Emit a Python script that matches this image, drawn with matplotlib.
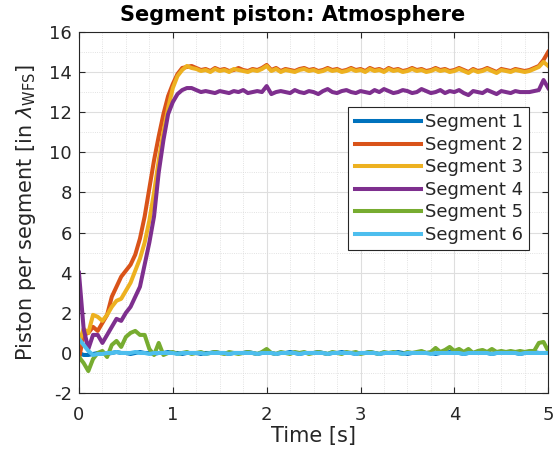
import numpy as np
import matplotlib
matplotlib.use("Agg")
import matplotlib.pyplot as plt
from matplotlib.ticker import MultipleLocator

plt.rcParams['axes.unicode_minus'] = False

# sample times [s], 0.05 s step, 0 .. 5
time_s = np.linspace(0, 5, 101)

seg1 = [0.0, -0.1, -0.1, -0.05, 0.0, 0.0, -0.05, 0.0, 0.05, 0.0, 0.0, -0.05, 0.0, 0.05, 0.0, 0.0, -0.05, 0.0, 0.0, 0.05, 0.0, 0.0, -0.05, 0.0, 0.0,
        0.0, -0.05, 0.0, 0.0, 0.05, 0.0, 0.0, -0.05, 0.0, 0.0, 0.0, 0.05, 0.0, -0.05, 0.0, 0.0,
        0.0, -0.05, 0.0, 0.0, 0.05, 0.0, -0.05, 0.0, 0.0, 0.0, 0.05, 0.0, -0.05, 0.0, 0.0, 0.05, 0.0, 0.0, -0.05, 0.0,
        0.0, 0.05, 0.0, -0.05, 0.0, 0.0, 0.0, 0.05, 0.0, -0.05, 0.0, 0.0, 0.05, 0.0, 0.0, -0.05, 0.0, 0.0, 0.05, 0.0,
        0.0, -0.05, 0.0, 0.0, 0.05, 0.0, 0.0, -0.05, 0.0, 0.0, 0.05, 0.0, 0.0, -0.05, 0.0, 0.0, 0.05, 0.0, 0.0, 0.0]

seg2 = [-0.3, 0.9, 1.0, 1.3, 1.1, 1.5, 1.9, 2.8, 3.3, 3.8, 4.1, 4.4, 4.9, 5.7, 6.8, 8.2, 9.6, 10.8, 11.9, 12.8, 13.4, 13.9, 14.2, 14.25, 14.3,
        14.2, 14.1, 14.15, 14.05, 14.2, 14.1, 14.15, 14.05, 14.1, 14.2, 14.1, 14.05, 14.15, 14.1, 14.2, 14.35,
        14.1, 14.2, 14.05, 14.15, 14.1, 14.05, 14.15, 14.2, 14.1, 14.15, 14.05, 14.1, 14.2, 14.1, 14.15, 14.05, 14.1, 14.2, 14.1, 14.15,
        14.05, 14.2, 14.1, 14.15, 14.05, 14.2, 14.1, 14.15, 14.05, 14.1, 14.2, 14.1, 14.15, 14.05, 14.1, 14.2, 14.1, 14.15, 14.05, 14.1,
        14.2, 14.1, 14.0, 14.15, 14.05, 14.1, 14.2, 14.1, 14.0, 14.15, 14.1, 14.05, 14.15, 14.1, 14.05, 14.1, 14.2, 14.3, 14.6, 15.0]

seg3 = [0.5, 1.2, 1.0, 1.9, 1.8, 1.6, 1.9, 2.3, 2.6, 2.7, 3.1, 3.5, 4.1, 4.7, 5.5, 6.6, 8.0, 9.6, 11.0, 12.2, 13.2, 13.8, 14.1, 14.3, 14.2,
        14.15, 14.05, 14.1, 14.0, 14.15, 14.05, 14.1, 14.0, 14.15, 14.1, 14.05, 14.0, 14.1, 14.05, 14.15, 14.3,
        14.05, 14.15, 14.0, 14.1, 14.05, 14.0, 14.1, 14.15, 14.05, 14.1, 14.0, 14.05, 14.15, 14.05, 14.1, 14.0, 14.05, 14.15, 14.05, 14.1,
        14.0, 14.15, 14.05, 14.1, 14.0, 14.15, 14.05, 14.1, 14.0, 14.05, 14.15, 14.05, 14.1, 14.0, 14.05, 14.15, 14.05, 14.1, 14.0, 14.05,
        14.15, 14.05, 13.95, 14.1, 14.0, 14.05, 14.15, 14.05, 13.95, 14.1, 14.05, 14.0, 14.1, 14.05, 14.0, 14.05, 14.15, 14.25, 14.5, 14.3]

seg4 = [4.0, 1.2, 0.2, 0.9, 0.9, 0.5, 0.9, 1.3, 1.7, 1.6, 2.0, 2.3, 2.8, 3.3, 4.4, 5.5, 6.8, 9.0, 10.6, 11.9, 12.5, 12.9, 13.1, 13.2, 13.2,
        13.1, 13.0, 13.05, 13.0, 12.95, 13.05, 13.0, 12.95, 13.05, 13.0, 13.1, 12.95, 13.0, 13.05, 13.0, 13.3,
        12.9, 13.0, 13.05, 13.0, 12.95, 13.1, 13.0, 12.95, 13.05, 13.0, 12.9, 13.05, 13.15, 13.0, 12.95, 13.05, 13.1, 13.0, 12.95, 13.05,
        13.0, 12.95, 13.1, 13.0, 13.15, 13.05, 12.95, 13.0, 13.1, 13.05, 12.95, 13.0, 13.15, 13.05, 12.95, 13.0, 13.1, 12.95, 13.05, 13.0,
        13.1, 12.95, 12.85, 13.05, 13.0, 12.95, 13.1, 13.0, 12.9, 13.05, 13.0, 12.95, 13.05, 13.0, 13.0, 13.0, 13.05, 13.1, 13.6, 13.2]

seg5 = [-0.2, -0.5, -0.9, -0.3, 0.0, 0.1, -0.2, 0.4, 0.6, 0.3, 0.8, 1.0, 1.1, 0.9, 0.9, 0.2, -0.1, 0.5, -0.1, 0.0, 0.05, -0.05, 0.0, 0.05, -0.05,
        0.0, 0.05, -0.05, 0.0, 0.05, 0.0, -0.05, 0.05, 0.0, -0.05, 0.0, 0.05, 0.0, -0.05, 0.05, 0.2,
        0.0, -0.05, 0.05, 0.0, -0.05, 0.05, 0.0, 0.05, -0.05, 0.0, 0.05, 0.0, -0.05, 0.05, 0.0, -0.05, 0.05, 0.0, 0.05, -0.05,
        0.0, 0.05, 0.0, -0.05, 0.05, 0.0, 0.05, 0.0, -0.05, 0.05, 0.0, 0.05, 0.1, 0.0, 0.05, 0.25, 0.05, 0.15, 0.3, 0.1,
        0.2, 0.05, 0.2, 0.0, 0.1, 0.15, 0.05, 0.2, 0.05, 0.1, 0.05, 0.1, 0.05, 0.1, 0.05, 0.1, 0.1, 0.5, 0.55, 0.1]

seg6 = [0.7, 0.4, 0.1, -0.1, -0.05, -0.05, 0.0, 0.0, 0.05, 0.0, 0.0, 0.0, 0.05, 0.0, 0.0, -0.05, 0.0, 0.0, 0.0, 0.0, 0.0, -0.05, 0.0, 0.0, 0.0,
        0.0, 0.0, -0.05, 0.0, 0.0, 0.0, 0.0, -0.05, 0.0, 0.0, 0.0, 0.0, 0.0, -0.05, 0.0, 0.0,
        0.0, -0.05, 0.0, 0.0, 0.0, 0.0, -0.05, 0.0, 0.0, 0.0, 0.0, 0.0, -0.05, 0.0, 0.0, 0.0, 0.0, 0.0, -0.05, 0.0,
        0.0, 0.0, 0.0, -0.05, 0.0, 0.0, 0.0, 0.0, -0.05, 0.0, 0.0, 0.0, 0.0, 0.0, -0.05, 0.0, 0.0, 0.0, 0.0, 0.0,
        0.0, -0.05, 0.0, 0.0, 0.0, 0.0, 0.0, -0.05, 0.0, 0.0, 0.0, 0.0, 0.0, -0.05, 0.0, 0.0, 0.0, 0.0, 0.0, 0.0]

series = [seg1, seg2, seg3, seg4, seg5, seg6]
labels = ['Segment 1', 'Segment 2', 'Segment 3', 'Segment 4', 'Segment 5', 'Segment 6']
colors = ['#0072BD', '#D95319', '#EDB120', '#7E2F8E', '#77AC30', '#4DBEEE']

dark = '#262626'
fig = plt.figure(figsize=(5.56, 4.55), dpi=100)
ax = fig.add_axes([0.142, 0.136, 0.844, 0.794])

for y, lab, c in zip(series, labels, colors):
    ax.plot(time_s, y, color=c, linewidth=2.9, label=lab)

ax.set_xlim(0, 5)
ax.set_ylim(-2, 16)
ax.xaxis.set_major_locator(MultipleLocator(1))
ax.xaxis.set_minor_locator(MultipleLocator(0.25))
ax.yaxis.set_major_locator(MultipleLocator(2))
ax.yaxis.set_minor_locator(MultipleLocator(1))

ax.grid(True, which='major', color='#dedede', linewidth=0.8)
ax.grid(True, which='minor', color='#d9d9d9', linewidth=0.6, linestyle=':')
ax.set_axisbelow(True)

ax.tick_params(which='both', direction='in', top=True, right=True, colors=dark, labelsize=13)
ax.tick_params(which='major', length=4)
ax.tick_params(which='minor', length=0)
ax.tick_params(axis='x', pad=9)
ax.tick_params(axis='y', pad=5)
for s in ax.spines.values():
    s.set_color(dark)
    s.set_linewidth(0.8)

ax.set_xlabel('Time [s]', fontsize=15, color=dark, labelpad=2)
ax.set_ylabel(r'Piston per segment [in $\lambda_{\mathrm{WFS}}$]', fontsize=15, color=dark, labelpad=8)
ax.set_title('Segment piston: Atmosphere', fontsize=15, fontweight='bold', color='black',
             x=0.456, pad=8)

leg = ax.legend(loc='upper right', bbox_to_anchor=(0.959, 0.792), fontsize=13,
                handlelength=3.65, handletextpad=0.22, borderaxespad=0, borderpad=0.35,
                labelspacing=0.25, fancybox=False, framealpha=1, edgecolor=dark)
leg.get_frame().set_linewidth(0.8)
for t in leg.get_texts():
    t.set_color(dark)

fig.savefig('out.png', dpi=100)
